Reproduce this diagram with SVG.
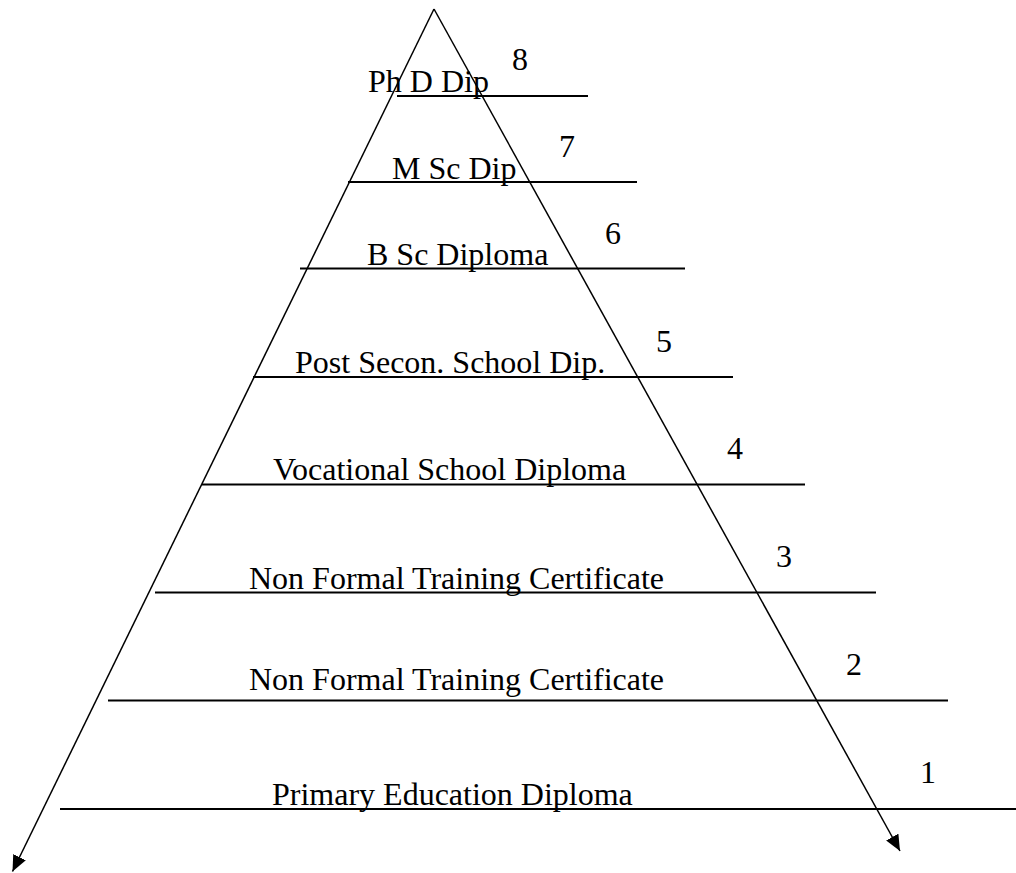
<svg xmlns="http://www.w3.org/2000/svg" width="1016" height="873" viewBox="0 0 1016 873">
<style>
.bar{stroke:#000;stroke-width:2;fill:none}
.lbl{font-family:"Liberation Serif","Times New Roman",serif;font-size:32px;fill:#000}
.num{font-family:"Liberation Serif","Times New Roman",serif;font-size:32px;fill:#000}
.side{stroke:#000;stroke-width:1.5;fill:none;marker-end:url(#arr)}
</style>
<defs>
<marker id="arr" markerUnits="userSpaceOnUse" markerWidth="16" markerHeight="14" refX="16" refY="7" orient="auto" viewBox="0 0 16 14">
<path d="M0,0 L16,7 L0,14 z" fill="#000"/>
</marker>
</defs>
<rect width="1016" height="873" fill="#fff"/>
<g id="connectors">
<line class="side" x1="434" y1="9" x2="12.5" y2="871.5"/>
<line class="side" x1="434" y1="9" x2="900" y2="851"/>
</g>
<g id="level8">
<line class="bar" x1="397" y1="96" x2="588" y2="96"/>
<text class="lbl" x="368" y="92">Ph D Dip</text>
<text class="num" x="512" y="70">8</text>
</g>
<g id="level7">
<line class="bar" x1="348" y1="182" x2="637" y2="182"/>
<text class="lbl" x="392" y="179">M Sc Dip</text>
<text class="num" x="559" y="157">7</text>
</g>
<g id="level6">
<line class="bar" x1="300" y1="268.5" x2="685" y2="268.5"/>
<text class="lbl" x="367" y="265">B Sc Diploma</text>
<text class="num" x="605" y="244">6</text>
</g>
<g id="level5">
<line class="bar" x1="253" y1="377" x2="733" y2="377"/>
<text class="lbl" x="295" y="373">Post Secon. School Dip.</text>
<text class="num" x="656" y="352">5</text>
</g>
<g id="level4">
<line class="bar" x1="202" y1="484.5" x2="805" y2="484.5"/>
<text class="lbl" x="273" y="480">Vocational School Diploma</text>
<text class="num" x="727" y="459">4</text>
</g>
<g id="level3">
<line class="bar" x1="155" y1="592.5" x2="876" y2="592.5"/>
<text class="lbl" x="249" y="589">Non Formal Training Certificate</text>
<text class="num" x="776" y="567">3</text>
</g>
<g id="level2">
<line class="bar" x1="108" y1="700.5" x2="948" y2="700.5"/>
<text class="lbl" x="249" y="690">Non Formal Training Certificate</text>
<text class="num" x="846" y="675">2</text>
</g>
<g id="level1">
<line class="bar" x1="60" y1="809" x2="1016" y2="809"/>
<text class="lbl" x="272" y="805">Primary Education Diploma</text>
<text class="num" x="920" y="783">1</text>
</g>
</svg>
